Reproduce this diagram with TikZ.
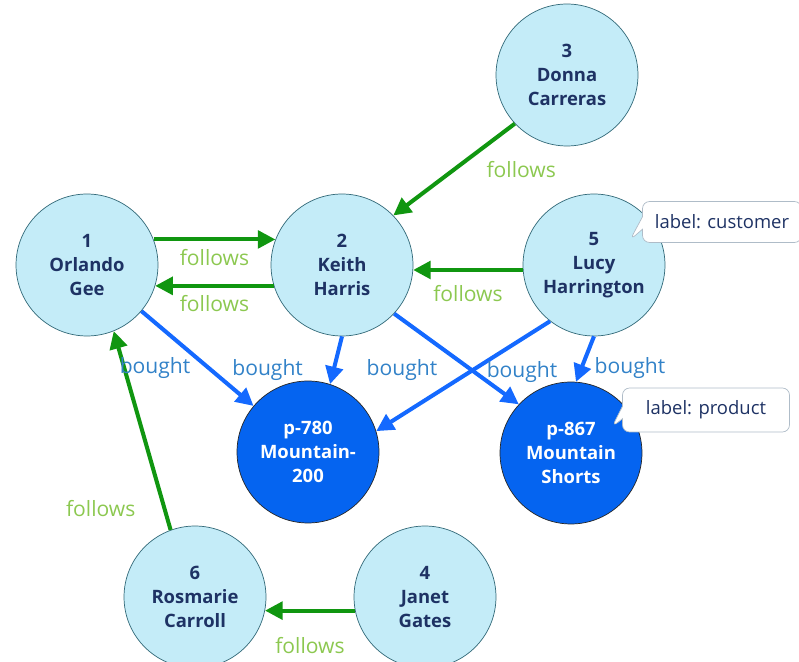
\documentclass[tikz,border=0pt]{standalone}
\usepackage{fontspec}
\setmainfont{Open Sans}
\usepackage{tikz}
\definecolor{personfill}{RGB}{196, 236, 248}
\definecolor{personrim}{RGB}{50, 105, 120}
\definecolor{navytext}{RGB}{30, 50, 100}
\definecolor{prodfill}{RGB}{5, 100, 240}
\definecolor{followgreen}{RGB}{16, 150, 16}
\definecolor{followtext}{RGB}{140, 200, 80}
\definecolor{boughtblue}{RGB}{20, 105, 255}
\definecolor{boughttext}{RGB}{50, 130, 200}
\definecolor{tagrim}{RGB}{175, 188, 200}
\usetikzlibrary{arrows.meta, shapes.callouts}

\begin{document}
\begin{tikzpicture}[
    x=0.02cm, y=-0.02cm,
    person/.style={circle, draw=personrim, fill=personfill, minimum size=2.84cm,
                   inner sep=0pt, align=center, text=navytext,
                   font=\bfseries\fontsize{10.5}{13.6}\selectfont},
    product/.style={person, draw=black!85, fill=prodfill, text=white},
    follows/.style={-{Triangle[length=10pt, width=10pt]}, line width=2.3pt, draw=followgreen},
    bought/.style={-{Triangle[length=10pt, width=10pt]}, line width=2.3pt, draw=boughtblue},
    flabel/.style={text=followtext, font=\fontsize{12}{14}\selectfont},
    blabel/.style={text=boughttext, font=\fontsize{12}{14}\selectfont},
    tag/.style={rectangle callout, rounded corners=4pt, draw=tagrim, fill=white,
                text=navytext, font=\fontsize{10.5}{12}\selectfont}
]
    \useasboundingbox (0,0) rectangle (799,662);

    % Customers
    \node[person] (n1) at (87,265) {1\\Orlando\\Gee};
    \node[person] (n2) at (342,265) {2\\Keith\\Harris};
    \node[person] (n3) at (567,75) {3\\Donna\\Carreras};
    \node[person] (n5) at (594,265) {5\\Lucy\\Harrington};
    \node[person] (n6) at (195,597) {6\\Rosmarie\\Carroll};
    \node[person] (n4) at (425,597) {4\\Janet\\Gates};

    % Products
    \node[product] (p780) at (308,452) {p-780\\Mountain-\\200};
    \node[product] (p867) at (571,453) {p-867\\Mountain\\Shorts};

    % Follows
    \draw[follows] (n1.21) -- node[flabel, below=1pt] {follows} (n2.159);
    \draw[follows] (n2.197) -- node[flabel, below=1pt] {follows} (n1.343);
    \draw[follows] (n3.223) -- node[flabel, right=14pt] {follows} (n2.44);
    \draw[follows] (n5.184) -- node[flabel, below=4pt] {follows} (n2.356);
    \draw[follows] (n6.110) -- node[flabel, pos=.11, left=12pt] {follows} (n1.292);
    \draw[follows] (n4.191) -- node[flabel, below=11pt] {follows} (n6.349);

    % Bought
    \draw[bought] (n1) -- node[blabel, pos=.6, left=6pt] {bought} (p780);
    \draw[bought] (n2.270) -- node[blabel, pos=.7, left=13pt] {bought} (p780.72);
    \draw[bought] (n2.317) -- node[blabel, pos=.62, left=15pt] {bought} (p867.137);
    \draw[bought] (n5.232) -- node[blabel, pos=.46, right=5pt] {bought} (p780.17);
    \draw[bought] (n5.270) -- node[blabel, pos=.69, right=3pt] {bought} (p867.86);

    % Labels
    \node[tag, minimum width=3.18cm, minimum height=0.82cm,
          callout absolute pointer={(630,240)}] (custtag) at (722,222) {label: customer};
    \node[tag, minimum width=3.34cm, minimum height=0.88cm,
          callout absolute pointer={(612,427)}] (prodtag) at (706,410) {label: product};
\end{tikzpicture}
\end{document}
